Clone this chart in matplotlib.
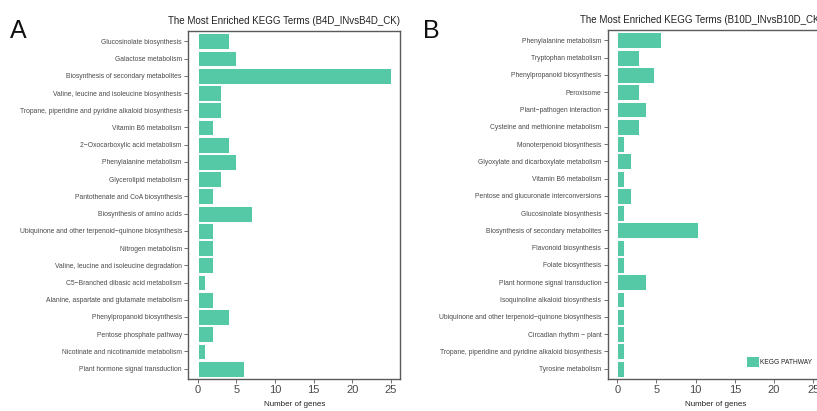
import matplotlib
matplotlib.use("Agg")
import matplotlib.pyplot as plt
from matplotlib.patches import Patch

plt.rcParams['font.family'] = ['Liberation Sans', 'DejaVu Sans']

terms_a = [
    "Glucosinolate biosynthesis",
    "Galactose metabolism",
    "Biosynthesis of secondary metabolites",
    "Valine, leucine and isoleucine biosynthesis",
    "Tropane, piperidine and pyridine alkaloid biosynthesis",
    "Vitamin B6 metabolism",
    "2\u2212Oxocarboxylic acid metabolism",
    "Phenylalanine metabolism",
    "Glycerolipid metabolism",
    "Pantothenate and CoA biosynthesis",
    "Biosynthesis of amino acids",
    "Ubiquinone and other terpenoid\u2212quinone biosynthesis",
    "Nitrogen metabolism",
    "Valine, leucine and isoleucine degradation",
    "C5\u2212Branched dibasic acid metabolism",
    "Alanine, aspartate and glutamate metabolism",
    "Phenylpropanoid biosynthesis",
    "Pentose phosphate pathway",
    "Nicotinate and nicotinamide metabolism",
    "Plant hormone signal transduction",
]
genes_a = [4, 5, 25, 3, 3, 2, 4, 5, 3, 2, 7, 2, 2, 2, 1, 2, 4, 2, 1, 6]

terms_b = [
    "Phenylalanine metabolism",
    "Tryptophan metabolism",
    "Phenylpropanoid biosynthesis",
    "Peroxisome",
    "Plant\u2212pathogen interaction",
    "Cysteine and methionine metabolism",
    "Monoterpenoid biosynthesis",
    "Glyoxylate and dicarboxylate metabolism",
    "Vitamin B6 metabolism",
    "Pentose and glucuronate interconversions",
    "Glucosinolate biosynthesis",
    "Biosynthesis of secondary metabolites",
    "Flavonoid biosynthesis",
    "Folate biosynthesis",
    "Plant hormone signal transduction",
    "Isoquinoline alkaloid biosynthesis",
    "Ubiquinone and other terpenoid\u2212quinone biosynthesis",
    "Circadian rhythm \u2212 plant",
    "Tropane, piperidine and pyridine alkaloid biosynthesis",
    "Tyrosine metabolism",
]
genes_b = [5.6, 2.8, 4.7, 2.8, 3.7, 2.8, 0.9, 1.8, 0.9, 1.8, 0.9, 10.3, 0.9, 0.9, 3.7,
           0.9, 0.9, 0.9, 0.9, 0.9]

x_ticks = [0, 5, 10, 15, 20, 25]
titles = ["The Most Enriched KEGG Terms (B4D_INvsB4D_CK)",
          "The Most Enriched KEGG Terms (B10D_INvsB10D_CK)"]
panel_letters = ["A", "B"]

W, H = 817, 411
fig = plt.figure(figsize=(W / 100, H / 100), dpi=100)

bar_color = "#55C9A5"
frame_color = "#5a5a5a"
text_color = "#4a4a4a"

axes_px = [(188, 31, 400.5, 379), (607.5, 30, 823, 379)]
letter_px = [(10, 38), (423, 38)]

for i, (terms, genes) in enumerate([(terms_a, genes_a), (terms_b, genes_b)]):
    l, t, r, b = axes_px[i]
    ax = fig.add_axes([l / W, 1 - b / H, (r - l) / W, (b - t) / H])
    n = len(terms)
    ypos = list(range(n))
    ax.barh(ypos, genes, height=0.92, color=bar_color, edgecolor="white", linewidth=0.7)
    ax.set_ylim(n - 1 + 0.6, -0.6)
    ax.set_xlim(-1.25, 26.25)
    ax.set_yticks(ypos)
    ax.set_yticklabels(terms, fontsize=4.9, color=text_color)
    ax.set_xticks(x_ticks)
    ax.set_xticklabels([str(v) for v in x_ticks], fontsize=8, color=text_color)
    ax.tick_params(axis='y', length=3, width=0.6, color=frame_color, pad=1.5)
    ax.tick_params(axis='x', length=3, width=0.6, color=frame_color, pad=1.5)
    for s in ax.spines.values():
        s.set_color(frame_color)
        s.set_linewidth(1.0)
    ax.set_xlabel("Number of genes", fontsize=5.8, color="#222222", labelpad=4)
    ax.set_title(titles[i], fontsize=7.0, color="#222222", loc='right', pad=5)
    fig.text(letter_px[i][0] / W, 1 - letter_px[i][1] / H, panel_letters[i],
             fontsize=18, color="#111111", ha='left', va='baseline')
    if i == 1:
        handle = Patch(facecolor=bar_color, edgecolor='none')
        ax.legend([handle], ["KEGG PATHWAY"], loc='center left',
                  bbox_to_anchor=(744 / W, 1 - 362 / H), bbox_transform=fig.transFigure,
                  frameon=False, fontsize=4.8, handlelength=1.75, handleheight=1.75,
                  handletextpad=0.15, borderpad=0, labelcolor="#222222")

fig.savefig("out.png", dpi=100)
